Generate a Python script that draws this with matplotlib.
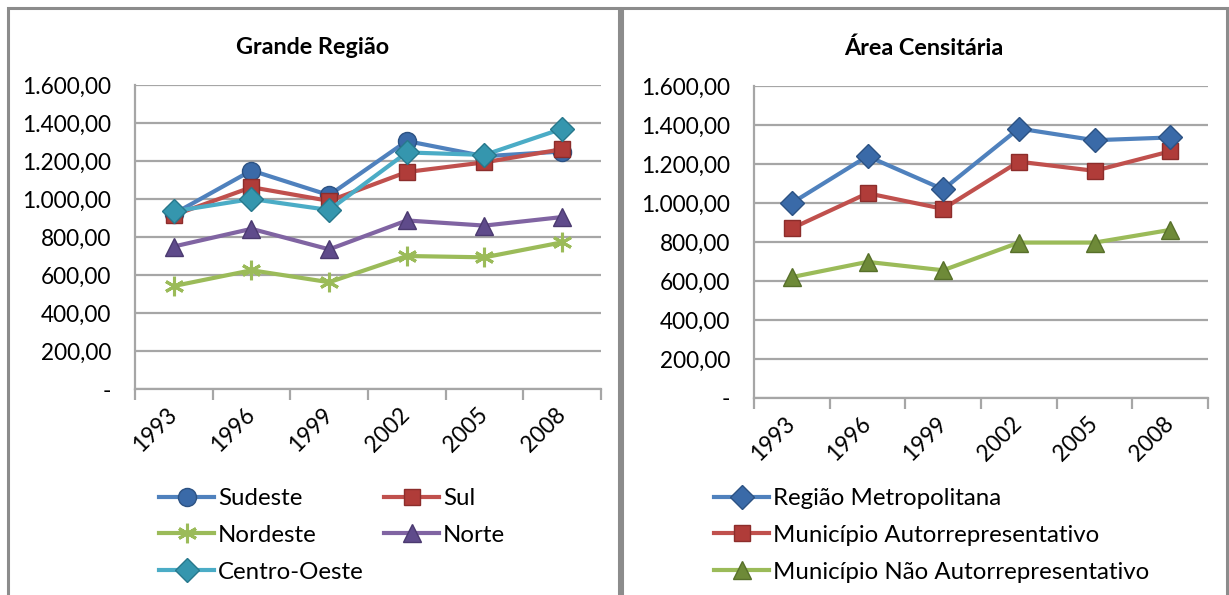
import matplotlib
matplotlib.use("Agg")
import matplotlib.pyplot as plt
from matplotlib.patches import Rectangle

plt.rcParams['font.family'] = ['Lato', 'DejaVu Sans']

years = ["1993", "1996", "1999", "2002", "2005", "2008"]

# Grande Região
sudeste = [922, 1150, 1020, 1305, 1225, 1250]
sul = [915, 1062, 990, 1142, 1193, 1262]
nordeste = [542, 625, 562, 700, 693, 772]
norte = [750, 843, 735, 887, 860, 905]
centro_oeste = [935, 1000, 942, 1245, 1232, 1370]

# Área Censitária
regiao_metropolitana = [1000, 1240, 1070, 1382, 1322, 1336]
municipio_auto = [870, 1050, 970, 1212, 1165, 1265]
municipio_nao_auto = [620, 698, 655, 797, 797, 862]

yticks = [0, 200, 400, 600, 800, 1000, 1200, 1400, 1600]
ytick_labels = ["-", "200,00", "400,00", "600,00", "800,00", "1.000,00",
                "1.200,00", "1.400,00", "1.600,00"]

BLUE = "#4F81BD"
RED = "#C0504D"
GREEN = "#9BBB59"
PURPLE = "#8064A2"
TEAL = "#4BACC6"
GRID = "#A6A6A6"

TICK_FS = 16.3
LEG_FS = 17.3
TITLE_FS = 16.8

W, H = 1229, 595
fig = plt.figure(figsize=(W / 100, H / 100), dpi=100)
fig.patch.set_facecolor("white")


def px_axes(x0, x1, ytop, ybot):
    return fig.add_axes([x0 / W, (H - ybot) / H, (x1 - x0) / W, (ybot - ytop) / H])


# panel borders
for (x0, x1) in [(8, 619), (622, 1227)]:
    fig.add_artist(Rectangle((x0 / W, -0.05), (x1 - x0) / W, (H - 8) / H + 0.05,
                             transform=fig.transFigure, fill=False,
                             edgecolor="#8C8C8C", linewidth=2.2))


def style_axes(ax):
    x = list(range(len(years)))
    ax.set_xlim(-0.5, len(years) - 0.5)
    ax.set_ylim(0, 1600)
    ax.set_yticks(yticks)
    ax.set_yticklabels(ytick_labels, fontsize=TICK_FS)
    ax.yaxis.grid(True, color=GRID, linewidth=1.6, zorder=0)
    ax.set_axisbelow(True)
    for s in ["top", "right"]:
        ax.spines[s].set_visible(False)
    ax.spines["left"].set_color(GRID)
    ax.spines["left"].set_linewidth(1.6)
    ax.spines["bottom"].set_color(GRID)
    ax.spines["bottom"].set_linewidth(1.6)
    ax.tick_params(axis="y", length=0, pad=17)
    ax.set_xticks([i - 0.5 for i in range(len(years) + 1)], minor=False)
    ax.set_xticklabels([""] * (len(years) + 1))
    ax.tick_params(axis="x", which="major", length=8, width=1.6, color=GRID, direction="out")
    ax.set_xticks(x, minor=True)
    ax.set_xticklabels(years, minor=True, rotation=45, fontsize=TICK_FS,
                       ha="right", va="center", rotation_mode="anchor")
    ax.tick_params(axis="x", which="minor", length=0, pad=16)
    for lab in ax.get_xticklabels(minor=True):
        lab.set_x(lab.get_position()[0])
    return x


lw = 3.0

# Left chart
ax1 = px_axes(135, 601, 85, 389)
x = style_axes(ax1)
ax1.plot(x, nordeste, color=GREEN, lw=lw, marker=(6, 2, 0), ms=14, mew=2.2,
         mec=GREEN, label="Nordeste", zorder=3)
ax1.plot(x, norte, color=PURPLE, lw=lw, marker="^", ms=13, mfc="#5F4B8B",
         mec="#4B3A70", label="Norte", zorder=3)
ax1.plot(x, sudeste, color=BLUE, lw=lw, marker="o", ms=13, mfc="#3A6AA8",
         mec="#2C5283", label="Sudeste", zorder=4)
ax1.plot(x, sul, color=RED, lw=lw, marker="s", ms=12, mfc="#B03C39",
         mec="#8C2D2B", label="Sul", zorder=4)
ax1.plot(x, centro_oeste, color=TEAL, lw=lw, marker="D", ms=12, mfc="#3596AE",
         mec="#27788C", label="Centro-Oeste", zorder=5)
fig.text(313 / W, 1 - 48 / H, "Grande Região", fontsize=TITLE_FS,
         fontweight="bold", ha="center", va="center")

h = {l.get_label(): l for l in ax1.get_lines()}
leg_kw = dict(frameon=False, fontsize=LEG_FS, loc="upper left",
              handlelength=2.3, handletextpad=0.15, labelspacing=0.66,
              borderaxespad=0, borderpad=0)
for cols, xpos in [(["Sudeste", "Nordeste", "Centro-Oeste"], 159),
                   (["Sul", "Norte"], 384)]:
    fig.legend([h[k] for k in cols], cols, bbox_to_anchor=(xpos / W, 1 - 488 / H),
               **leg_kw)

# Right chart
ax2 = px_axes(754, 1208, 86, 398)
x = style_axes(ax2)
ax2.plot(x, municipio_nao_auto, color=GREEN, lw=lw, marker="^", ms=13,
         mfc="#6E8A38", mec="#57702A", label="Município Não Autorrepresentativo", zorder=3)
ax2.plot(x, municipio_auto, color=RED, lw=lw, marker="s", ms=12, mfc="#B03C39",
         mec="#8C2D2B", label="Município Autorrepresentativo", zorder=4)
ax2.plot(x, regiao_metropolitana, color=BLUE, lw=lw, marker="D", ms=12,
         mfc="#3A6AA8", mec="#2C5283", label="Região Metropolitana", zorder=5)
fig.text(924 / W, 1 - 48 / H, "Área Censitária", fontsize=TITLE_FS,
         fontweight="bold", ha="center", va="center")

h2 = {l.get_label(): l for l in ax2.get_lines()}
order2 = ["Região Metropolitana", "Município Autorrepresentativo",
          "Município Não Autorrepresentativo"]
fig.legend([h2[k] for k in order2], order2, bbox_to_anchor=(714 / W, 1 - 488 / H),
           **leg_kw)

fig.savefig("out.png", dpi=100, facecolor="white")
